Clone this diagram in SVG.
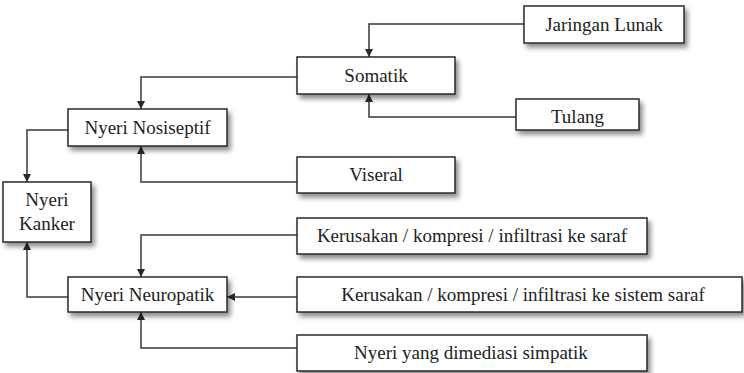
<svg xmlns="http://www.w3.org/2000/svg" width="744" height="373" viewBox="0 0 744 373">
<style>
.box{fill:#fff;stroke:#2a2a2a;stroke-width:1.5;filter:url(#sh)}
.t{font-family:'Liberation Serif','Tinos','Times New Roman','DejaVu Serif',serif;font-size:19px;fill:#222;text-anchor:middle}
.c{fill:none;stroke:#3a3a3a;stroke-width:1.5;marker-end:url(#ah)}
</style>
<defs>
<filter id="sh" x="-10%" y="-20%" width="125%" height="160%">
<feGaussianBlur in="SourceAlpha" stdDeviation="2.5"/>
<feOffset dx="3" dy="4" result="b"/>
<feComponentTransfer><feFuncA type="linear" slope="0.45"/></feComponentTransfer>
<feMerge><feMergeNode/><feMergeNode in="SourceGraphic"/></feMerge>
</filter>
<marker id="ah" viewBox="0 0 10 10" refX="10" refY="5" markerWidth="8" markerHeight="8" markerUnits="userSpaceOnUse" orient="auto">
<path d="M0,0 L10,5 L0,10 Z" fill="#2a2a2a"/>
</marker>
</defs>
<rect width="744" height="373" fill="#fff"/>
<g id="connectors">
<path class="c" d="M524,24 H369 V57"/>
<path class="c" d="M516,117 H369 V94"/>
<path class="c" d="M297,77 H141 V109"/>
<path class="c" d="M297,182 H141 V146"/>
<path class="c" d="M68,130 H27 V182"/>
<path class="c" d="M297,235 H141 V277"/>
<path class="c" d="M297,297 H227"/>
<path class="c" d="M297,348 H141 V312"/>
<path class="c" d="M68,297 H27 V242"/>
</g>
<g id="jaringan-lunak"><rect class="box" x="524" y="6" width="160" height="37"/><text class="t" font-family="Liberation Serif, serif" x="604" y="31">Jaringan Lunak</text></g>
<g id="somatik"><rect class="box" x="297" y="57" width="158" height="37"/><text class="t" x="376" y="82">Somatik</text></g>
<g id="tulang"><rect class="box" x="516" y="99" width="123" height="31"/><text class="t" x="577.5" y="123">Tulang</text></g>
<g id="nyeri-nosiseptif"><rect class="box" x="68" y="109" width="159" height="37"/><text class="t" x="147.5" y="134">Nyeri Nosiseptif</text></g>
<g id="viseral"><rect class="box" x="297" y="157" width="158" height="36"/><text class="t" x="376" y="181">Viseral</text></g>
<g id="nyeri-kanker"><rect class="box" x="3" y="182" width="88" height="60"/><text class="t" x="47" y="206">Nyeri</text><text class="t" x="47" y="230">Kanker</text></g>
<g id="kerusakan-saraf"><rect class="box" x="297" y="218" width="350" height="36"/><text class="t" x="472" y="242">Kerusakan / kompresi / infiltrasi ke saraf</text></g>
<g id="nyeri-neuropatik"><rect class="box" x="68" y="277" width="159" height="35"/><text class="t" x="147.5" y="301">Nyeri Neuropatik</text></g>
<g id="kerusakan-sistem-saraf"><rect class="box" x="297" y="277" width="445" height="35"/><text class="t" x="523" y="301">Kerusakan / kompresi / infiltrasi ke sistem saraf</text></g>
<g id="nyeri-simpatik"><rect class="box" x="297" y="335" width="350" height="36"/><text class="t" x="471" y="359">Nyeri yang dimediasi simpatik</text></g>
</svg>
